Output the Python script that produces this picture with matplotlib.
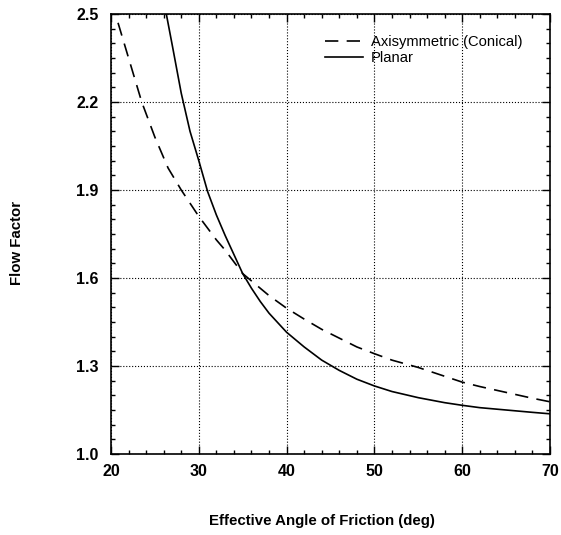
import matplotlib
matplotlib.use("Agg")
import matplotlib.pyplot as plt
from matplotlib.ticker import MultipleLocator

plt.rcParams['font.family'] = ['Liberation Sans', 'DejaVu Sans']

# curves
axi_x = [20.8, 22, 23.5, 25, 26.5, 28, 29, 30, 31, 32, 33, 34, 35, 36, 38, 40, 42, 44, 46, 48, 50,
         52, 55, 58, 60, 62, 65, 68, 70]
axi_y = [2.47, 2.35, 2.20, 2.08, 1.975, 1.90, 1.855, 1.81, 1.77, 1.73, 1.695, 1.655, 1.615, 1.59,
         1.54, 1.497, 1.46, 1.425, 1.395, 1.365, 1.342, 1.32, 1.295, 1.265, 1.245, 1.23, 1.21, 1.19,
         1.178]

planar_x = [26.3, 27, 28, 29, 30, 31, 32, 33, 34, 35, 36, 37, 38, 40, 42, 44, 46, 48, 50, 52, 55, 58,
            60, 62, 65, 68, 70]
planar_y = [2.5, 2.39, 2.23, 2.10, 2.0, 1.895, 1.815, 1.745, 1.68, 1.615, 1.565, 1.52, 1.48, 1.415,
            1.365, 1.32, 1.285, 1.255, 1.232, 1.213, 1.192, 1.175, 1.166, 1.158, 1.15, 1.142, 1.137]

x_ticks = [20, 30, 40, 50, 60, 70]
y_ticks = [1.0, 1.3, 1.6, 1.9, 2.2, 2.5]

W, H = 561, 535
fig = plt.figure(figsize=(W / 100, H / 100), dpi=100)
ax = fig.add_axes([111 / W, 1 - 454 / H, (550 - 111) / W, (454 - 14) / H])

ax.plot(axi_x, axi_y, color='black', lw=1.2, dashes=(8, 5), label='Axisymmetric (Conical)')
ax.plot(planar_x, planar_y, color='black', lw=1.2, label='Planar')

ax.set_xlim(20, 70)
ax.set_ylim(1.0, 2.5)
ax.set_xticks(x_ticks)
ax.set_yticks(y_ticks)
ax.set_yticklabels([f"{v:.1f}" for v in y_ticks])
ax.xaxis.set_minor_locator(MultipleLocator(2))
ax.yaxis.set_minor_locator(MultipleLocator(0.05))
ax.tick_params(which='both', direction='in', top=True, right=True)
ax.tick_params(which='major', length=6, width=1)
ax.tick_params(which='minor', length=3, width=1)
ax.tick_params(axis='x', which='major', pad=7)
ax.tick_params(axis='y', which='major', pad=9)
for lab in ax.get_xticklabels() + ax.get_yticklabels():
    lab.set_fontweight('bold')
    lab.set_fontsize(11.5)
ax.grid(True, which='major', color='black', linestyle=':', linewidth=0.8)
for s in ax.spines.values():
    s.set_linewidth(1.2)

fig.text(322 / W, 1 - 521 / H, 'Effective Angle of Friction (deg)', fontweight='bold',
         fontsize=10.8, ha='center', va='center')
fig.text(17 / W, 1 - 243 / H, 'Flow Factor', fontweight='bold', fontsize=10.8,
         rotation=90, ha='center', va='center')

ax.legend(loc='upper left', bbox_to_anchor=(325 / W, 1 - 35 / H), bbox_transform=fig.transFigure,
          frameon=False, fontsize=10.6, handlelength=2.6, borderpad=0, borderaxespad=0,
          handletextpad=0.5, labelspacing=0.15)

fig.savefig('out.png', dpi=100)
